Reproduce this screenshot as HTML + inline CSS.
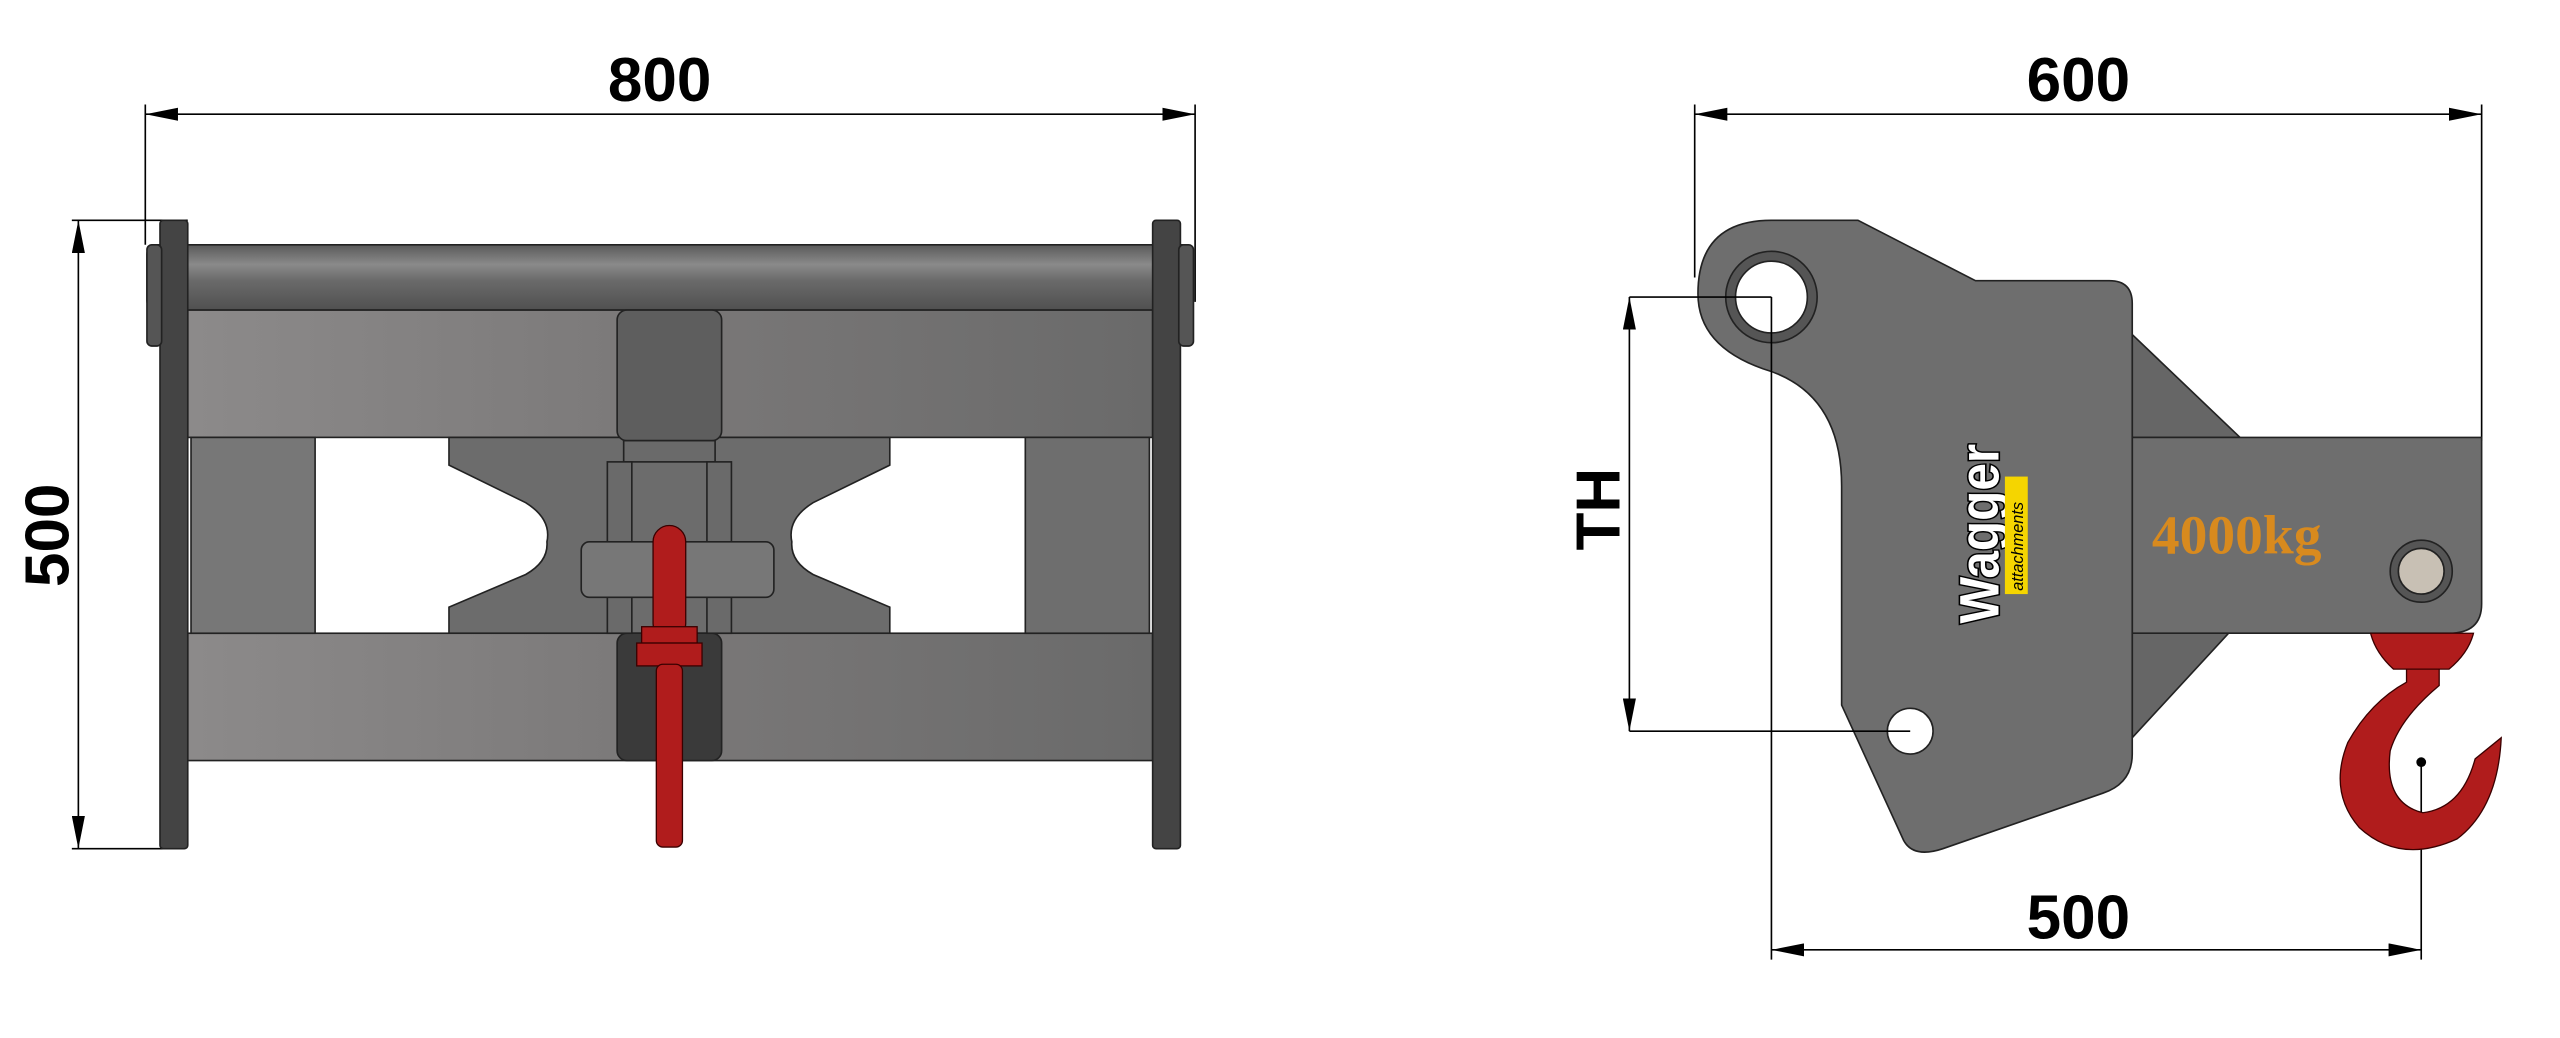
<!DOCTYPE html>
<html><head><meta charset="utf-8"><style>
html,body{margin:0;padding:0;background:#fff;width:2560px;height:1038px;overflow:hidden}
svg{display:block}
text{font-family:"Liberation Sans",sans-serif;font-weight:bold}
</style></head><body>
<svg width="2560" height="1038" viewBox="0 0 1568 636" preserveAspectRatio="none" xmlns="http://www.w3.org/2000/svg">
<defs>
<linearGradient id="beam" x1="0" x2="1"><stop offset="0" stop-color="#8c8a8a"/><stop offset="0.5" stop-color="#7a7878"/><stop offset="1" stop-color="#6a6a6a"/></linearGradient>
<linearGradient id="tube" x1="0" y1="0" x2="0" y2="1"><stop offset="0" stop-color="#5a5a5a"/><stop offset="0.3" stop-color="#8a8a8a"/><stop offset="0.55" stop-color="#6a6a6a"/><stop offset="1" stop-color="#505050"/></linearGradient>
<marker id="ar" viewBox="0 0 20 8" refX="20" refY="4" markerWidth="20" markerHeight="8" markerUnits="userSpaceOnUse" orient="auto-start-reverse"><path d="M0,0 L20,4 L0,8 z" fill="#000"/></marker>
</defs>
<g stroke="#000" stroke-width="1" fill="none">
<line x1="89" y1="70" x2="732" y2="70" marker-start="url(#ar)" marker-end="url(#ar)"/>
<line x1="89" y1="64" x2="89" y2="150"/><line x1="732" y1="64" x2="732" y2="185"/>
<line x1="48" y1="135" x2="48" y2="520" marker-start="url(#ar)" marker-end="url(#ar)"/>
<line x1="44" y1="135" x2="115" y2="135"/><line x1="44" y1="520" x2="105" y2="520"/>
<line x1="1038" y1="70" x2="1520" y2="70" marker-start="url(#ar)" marker-end="url(#ar)"/>
<line x1="1038" y1="64" x2="1038" y2="170"/><line x1="1520" y1="64" x2="1520" y2="270"/>
<line x1="1085" y1="582" x2="1483" y2="582" marker-start="url(#ar)" marker-end="url(#ar)"/>
<line x1="1483" y1="465" x2="1483" y2="588"/>
</g>
<text x="404" y="62" font-size="38" text-anchor="middle">800</text>
<text x="1273" y="62" font-size="38" text-anchor="middle">600</text>
<text x="1273" y="575" font-size="38" text-anchor="middle">500</text>
<text transform="translate(42,328) rotate(-90)" font-size="38" text-anchor="middle">500</text>
<text transform="translate(992,312) rotate(-90)" font-size="38" text-anchor="middle">TH</text>

<g stroke="#222" stroke-width="1">
<rect x="90" y="150" width="640" height="40" rx="6" fill="url(#tube)"/>
<rect x="115" y="190" width="591" height="78" fill="url(#beam)"/>
<rect x="115" y="388" width="591" height="78" fill="url(#beam)"/>
<rect x="117" y="268" width="76" height="120" fill="#777"/>
<rect x="628" y="268" width="76" height="120" fill="#6e6e6e"/>
<path d="M275,268 H545 V285 L498,308 Q482,318 485,332 Q484,344 498,352 L545,372 V388 H275 V372 L322,352 Q336,344 335,332 Q338,318 322,308 L275,285 Z" fill="#6c6c6c"/>
<rect x="98" y="135" width="17" height="385" rx="2" fill="#444"/>
<rect x="706" y="135" width="17" height="385" rx="2" fill="#444"/>
<rect x="90" y="150" width="9" height="62" rx="3" fill="#555"/>
<rect x="722" y="150" width="9" height="62" rx="3" fill="#555"/>
<rect x="378" y="190" width="64" height="80" rx="6" fill="#5e5e5e"/>
<rect x="382" y="270" width="56" height="13" fill="#6a6a6a"/>
<rect x="378" y="388" width="64" height="78" rx="6" fill="#3a3a3a"/>
<rect x="372" y="283" width="15" height="105" fill="#6a6a6a"/>
<rect x="433" y="283" width="15" height="105" fill="#6a6a6a"/>
<rect x="356" y="332" width="118" height="34" rx="5" fill="#777"/>
</g>
<g stroke="#3a0000" stroke-width="0.8" fill="#b01c1c">
<rect x="400" y="322" width="20" height="70" rx="10"/>
<rect x="393" y="384" width="34" height="10"/>
<rect x="390" y="394" width="40" height="14"/>
<rect x="402" y="407" width="16" height="112" rx="4"/>
</g>

<g stroke="#222" stroke-width="1">
<path d="M1306,205 L1372,268 H1306 Z" fill="#666"/>
<path d="M1306,452 L1365,388 H1306 Z" fill="#666"/>
<path d="M1306,268 H1520 V370 Q1520,388 1500,388 H1306 Z" fill="#6e6e6e"/>
<path d="M1085,135 H1138 L1210,172 H1292 Q1306,172 1306,186 V462 Q1306,480 1288,486 L1190,520 Q1172,526 1166,515 L1128,432 V298 Q1128,240 1080,226 Q1040,212 1040,180 Q1040,135 1085,135 Z" fill="#6e6e6e"/>
<circle cx="1085" cy="182" r="28" fill="#555"/>
<circle cx="1085" cy="182" r="22" fill="#fff"/>
<circle cx="1483" cy="350" r="19" fill="#555"/>
<circle cx="1483" cy="350" r="14" fill="#c8c0b4"/>
<circle cx="1170" cy="448" r="14" fill="#fff"/>
</g>
<line x1="1085" y1="182" x2="1085" y2="588" stroke="#000" stroke-width="1"/>
<g stroke="#000" stroke-width="1" fill="none">
<line x1="998" y1="182" x2="1085" y2="182"/><line x1="998" y1="448" x2="1170" y2="448"/>
<line x1="998" y1="182" x2="998" y2="448" marker-start="url(#ar)" marker-end="url(#ar)"/>
</g>
<text x="1318" y="339" font-size="34" fill="#d88a1e" style="font-family:'Liberation Serif',serif">4000kg</text>
<text transform="translate(1224,382) rotate(-90)" font-size="34" fill="#fff" stroke="#000" stroke-width="2" paint-order="stroke" textLength="110" lengthAdjust="spacingAndGlyphs">Wagger</text>
<rect x="1228" y="292" width="14" height="72" fill="#f5d500"/>
<text transform="translate(1239,362) rotate(-90)" font-size="10" fill="#000" style="font-weight:normal;font-style:italic">attachments</text>
<g stroke="#3a0000" stroke-width="0.8" fill="#b01c1c">
<path d="M1452,388 H1515 Q1512,400 1500,410 H1466 Q1455,400 1452,388 Z"/>
<path d="M1474,410 H1494 L1494,420 Q1470,440 1464,460 Q1460,492 1484,498 Q1508,495 1516,465 L1532,452 Q1530,495 1505,514 Q1470,530 1445,507 Q1426,485 1438,455 Q1452,430 1474,418 Z"/>
</g>
<circle cx="1483" cy="467" r="3" fill="#000"/>
</svg>
</body></html>
